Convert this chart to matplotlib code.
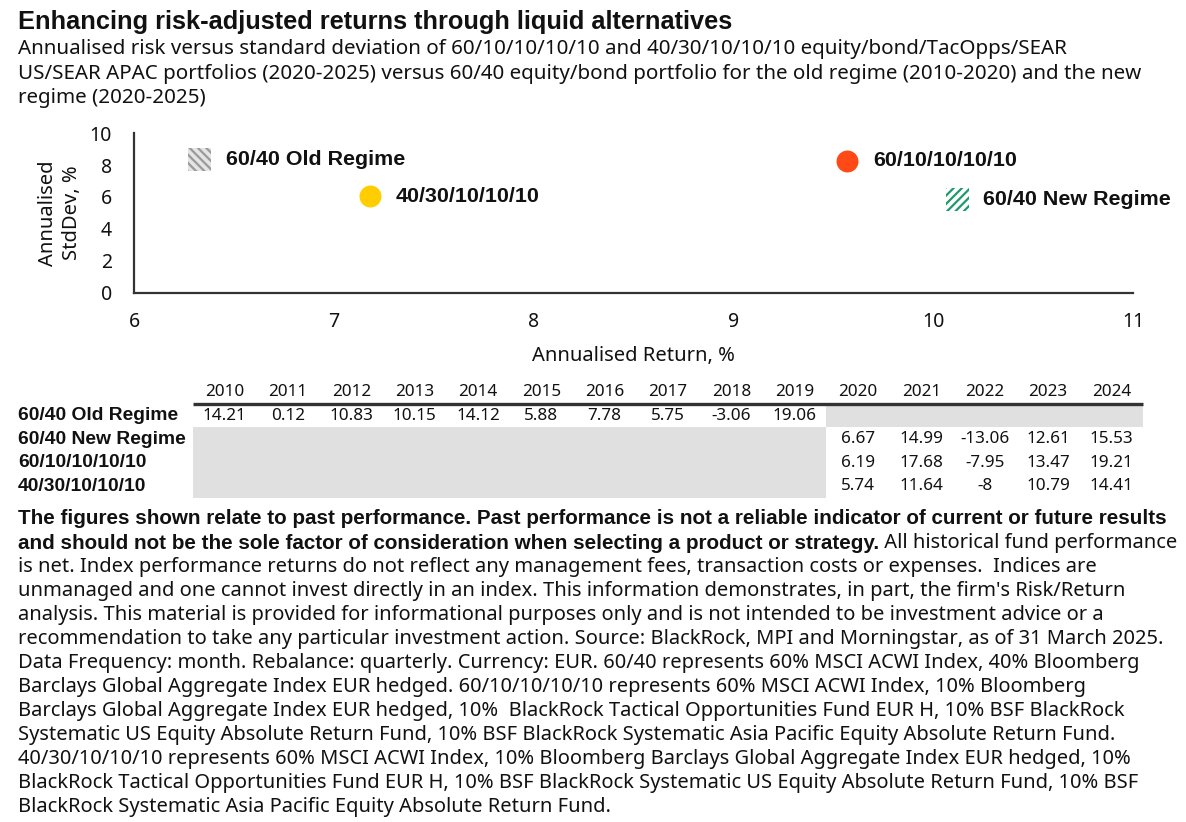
import matplotlib
matplotlib.use('Agg')
import matplotlib.pyplot as plt
from matplotlib.patches import Rectangle
from matplotlib.transforms import blended_transform_factory

W, H = 1186, 822
plt.rcParams['font.family'] = ['Noto Sans', 'DejaVu Sans']
plt.rcParams['hatch.linewidth'] = 1.6
BOLD_FAM = ['Liberation Sans', 'DejaVu Sans']

# ---------------- data ----------------
portfolios = ['60/40 Old Regime', '40/30/10/10/10', '60/10/10/10/10', '60/40 New Regime']
ann_return = [6.33, 7.18, 9.57, 10.12]
ann_stddev = [8.35, 6.06, 8.29, 5.83]
point_colors = ['#9a9a9a', '#FFCD00', '#FF4A17', '#1E9A6C']
point_markers = ['s', 'o', 'o', 's']
point_hatches = ['\\\\\\\\', None, None, '////']

x_ticks = [6, 7, 8, 9, 10, 11]
y_ticks = [0, 2, 4, 6, 8, 10]

years = ['2010', '2011', '2012', '2013', '2014', '2015', '2016', '2017',
         '2018', '2019', '2020', '2021', '2022', '2023', '2024']
table_rows = ['60/40 Old Regime', '60/40 New Regime', '60/10/10/10/10', '40/30/10/10/10']
old_regime_vals = [14.21, 0.12, 10.83, 10.15, 14.12, 5.88, 7.78, 5.75, -3.06, 19.06,
                   None, None, None, None, None]
new_regime_vals = [None] * 10 + [6.67, 14.99, -13.06, 12.61, 15.53]
p60_10_vals = [None] * 10 + [6.19, 17.68, -7.95, 13.47, 19.21]
p40_30_vals = [None] * 10 + [5.74, 11.64, -8, 10.79, 14.41]
table_values = [old_regime_vals, new_regime_vals, p60_10_vals, p40_30_vals]

title = 'Enhancing risk-adjusted returns through liquid alternatives'
subtitle_lines = [
    'Annualised risk versus standard deviation of 60/10/10/10/10 and 40/30/10/10/10 equity/bond/TacOpps/SEAR',
    'US/SEAR APAC portfolios (2020-2025) versus 60/40 equity/bond portfolio for the old regime (2010-2020) and the new',
    'regime (2020-2025)',
]
foot_bold_1 = 'The figures shown relate to past performance. Past performance is not a reliable indicator of current or future results'
foot_bold_2 = 'and should not be the sole factor of consideration when selecting a product or strategy.'
foot_reg_2 = ' All historical fund performance'
foot_lines = [
    'is net. Index performance returns do not reflect any management fees, transaction costs or expenses.  Indices are',
    "unmanaged and one cannot invest directly in an index. This information demonstrates, in part, the firm's Risk/Return",
    'analysis. This material is provided for informational purposes only and is not intended to be investment advice or a',
    'recommendation to take any particular investment action. Source: BlackRock, MPI and Morningstar, as of 31 March 2025.',
    'Data Frequency: month. Rebalance: quarterly. Currency: EUR. 60/40 represents 60% MSCI ACWI Index, 40% Bloomberg',
    'Barclays Global Aggregate Index EUR hedged. 60/10/10/10/10 represents 60% MSCI ACWI Index, 10% Bloomberg',
    'Barclays Global Aggregate Index EUR hedged, 10%  BlackRock Tactical Opportunities Fund EUR H, 10% BSF BlackRock',
    'Systematic US Equity Absolute Return Fund, 10% BSF BlackRock Systematic Asia Pacific Equity Absolute Return Fund.',
    '40/30/10/10/10 represents 60% MSCI ACWI Index, 10% Bloomberg Barclays Global Aggregate Index EUR hedged, 10%',
    'BlackRock Tactical Opportunities Fund EUR H, 10% BSF BlackRock Systematic US Equity Absolute Return Fund, 10% BSF',
    'BlackRock Systematic Asia Pacific Equity Absolute Return Fund.',
]

# ---------------- figure ----------------
fig = plt.figure(figsize=(W / 100, H / 100), dpi=100)
fig.patch.set_facecolor('white')
renderer = fig.canvas.get_renderer()


def fx(px):
    return px / W


def fy(py):
    return 1 - py / H


def fit_size(text, bold, target_px, start=12):
    kw = dict(family=BOLD_FAM, fontweight='bold') if bold else {}
    t = fig.text(0, 0, text, fontsize=start, **kw)
    w = t.get_window_extent(renderer).width
    t.remove()
    return start * target_px / w


TXT = '#111111'
BKW = dict(family=BOLD_FAM, fontweight='bold')

# title & subtitle
title_fs = fit_size(title, True, 731 - 18)
fig.text(fx(18), fy(22), title, fontsize=title_fs, color=TXT,
         ha='left', va='center', **BKW)
sub_fs = fit_size(subtitle_lines[1], False, 1138 - 18)
for i, line in enumerate(subtitle_lines):
    fig.text(fx(18), fy(49 + 24.5 * i), line, fontsize=sub_fs, color=TXT,
             ha='left', va='center')

# ---------------- scatter ----------------
ax = fig.add_axes([fx(134), fy(292.5), (1133 - 134) / W, (292.5 - 133.3) / H])
ax.set_xlim(6, 11)
ax.set_ylim(0, 10)
ax.set_xticks(x_ticks)
ax.set_yticks(y_ticks)
ax.tick_params(length=0, labelsize=14, colors=TXT)
ax.tick_params(axis='x', pad=14)
ax.tick_params(axis='y', pad=16)
for s in ['top', 'right']:
    ax.spines[s].set_visible(False)
for s in ['left', 'bottom']:
    ax.spines[s].set_color('#333333')
    ax.spines[s].set_linewidth(1.6)
ax.set_xlabel('Annualised Return, %', fontsize=14.5, color=TXT, labelpad=10)
ax.set_ylabel('Annualised\nStdDev, %', fontsize=14.5, color=TXT, labelpad=5,
              linespacing=1.3)

mk_fs = fit_size(portfolios[0], True, 403 - 225)
for name, xr, ys, col, mk, ht in zip(portfolios, ann_return, ann_stddev,
                                      point_colors, point_markers, point_hatches):
    if ht is None:
        ax.scatter([xr], [ys], s=250, marker=mk, color=col, linewidths=0, zorder=3,
                   clip_on=False)
    else:
        face = '#e4e4e4' if name == '60/40 Old Regime' else 'white'
        ax.scatter([xr], [ys], s=275, marker=mk, facecolor=face, edgecolor=col,
                   linewidths=0, hatch=ht, zorder=3, clip_on=False)
    ax.annotate(name, xy=(xr, ys), xytext=(18.5, 0), textcoords='offset points',
                fontsize=mk_fs, color=TXT, ha='left', va='center', **BKW)

# ---------------- table ----------------
tax = fig.add_axes([fx(193), fy(498), (1143 - 193) / W, (498 - 380.5) / H])
tax.set_xlim(0, len(years))
tax.set_ylim(len(table_rows), -1)
tax.axis('off')
GREY = '#e0e0e0'
for r, vals in enumerate(table_values):
    c = 0
    while c < len(vals):
        if vals[c] is None:
            c0 = c
            while c < len(vals) and vals[c] is None:
                c += 1
            tax.add_patch(Rectangle((c0, r), c - c0, 1, facecolor=GREY,
                                    linewidth=0, antialiased=False, zorder=1))
        else:
            c += 1
for c, yr in enumerate(years):
    tax.text(c + 0.5, -0.5, yr, ha='center', va='center', fontsize=12.3, color=TXT)
tax.plot([0, len(years)], [0, 0], color='#333333', linewidth=2.4,
         solid_capstyle='butt', zorder=3, clip_on=False)
lab_tr = blended_transform_factory(fig.transFigure, tax.transData)
lab_fs = fit_size(table_rows[1], True, 185 - 18)
for r, (lab, vals) in enumerate(zip(table_rows, table_values)):
    tax.text(fx(18), r + 0.5, lab, transform=lab_tr, ha='left', va='center',
             fontsize=lab_fs, color=TXT, **BKW)
    for c, v in enumerate(vals):
        if v is not None:
            tax.text(c + 0.5, r + 0.5, f'{v:g}', ha='center', va='center',
                     fontsize=12.3, color=TXT, zorder=2)

# ---------------- footnote ----------------
fb_fs = fit_size(foot_bold_1, True, 1160 - 18)
fr_fs = fit_size(foot_lines[3], False, 1157 - 18)
LS = 24.0
y0 = 519
fig.text(fx(18), fy(y0), foot_bold_1, fontsize=fb_fs, color=TXT,
         ha='left', va='center', **BKW)
tb = fig.text(fx(18), fy(y0 + LS), foot_bold_2, fontsize=fb_fs,
              color=TXT, ha='left', va='center', **BKW)
fig.canvas.draw()
bb = tb.get_window_extent(renderer)
fig.text(bb.x1 / W, fy(y0 + LS), foot_reg_2, fontsize=fr_fs, color=TXT,
         ha='left', va='center')
for i, line in enumerate(foot_lines):
    fig.text(fx(18), fy(y0 + LS * (i + 2)), line, fontsize=fr_fs, color=TXT,
             ha='left', va='center')

fig.savefig('out.png', dpi=100, facecolor='white')
